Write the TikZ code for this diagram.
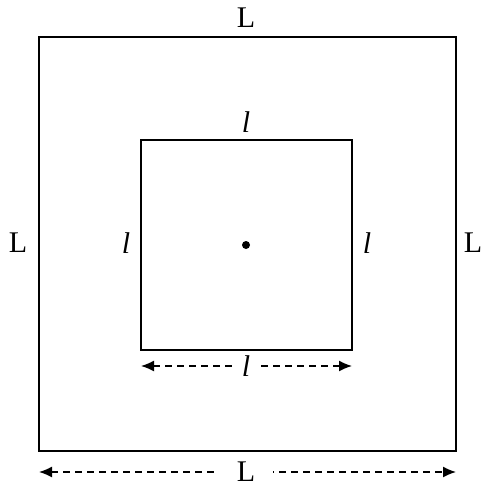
\documentclass[tikz,border=0pt]{standalone}
\usepackage{fontspec}
\setmainfont{Liberation Serif}
\usetikzlibrary{arrows.meta}
\begin{document}
\begin{tikzpicture}[x=1pt,y=-1pt,
  box/.style={draw, line width=1.5pt},
  lab/.style={font=\fontsize{30}{34}\selectfont, inner sep=0pt},
  dim/.style={dashed, dash pattern=on 7pt off 5pt, line width=1.4pt, {Latex[length=13pt,width=11pt]}-{Latex[length=13pt,width=11pt]}},
  gap/.style={fill=white, inner xsep=8pt, inner ysep=2pt, font=\fontsize{30}{34}\selectfont}]
\useasboundingbox (0,0) rectangle (483,487);
\draw[box] (39,37) rectangle (456,451);
\draw[box] (141,140) rectangle (352,350);
\fill (246,245) circle (4pt) node (c) {};
\node[lab] (Lt) at (246,18) {L};
\node[lab] (Ll) at (18,243) {L};
\node[lab] (Lr) at (473,243) {L};
\node[lab] (lt) at (246,122) {\itshape l};
\node[lab] (ll) at (126,243) {\itshape l};
\node[lab] (lr) at (367,243) {\itshape l};
\coordinate (a1) at (39,472);
\coordinate (a2) at (456,472);
\coordinate (b1) at (141,366);
\coordinate (b2) at (352,366);
\draw[dim] (a1) -- (a2);
\draw[dim] (b1) -- (b2);
\node[gap, inner xsep=18pt] (Lb) at (246,472) {L};
\node[gap, inner xsep=10pt] (lb) at (246,366) {\itshape l};
\end{tikzpicture}
\end{document}
